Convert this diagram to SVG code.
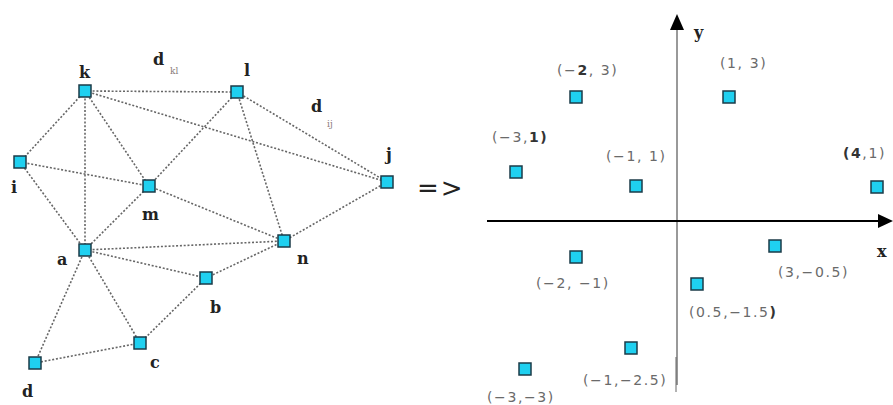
<svg xmlns="http://www.w3.org/2000/svg" width="893" height="405" viewBox="0 0 893 405">
<defs>
<style>
.nd{fill:#1fd0f0;stroke:#1b3b48;stroke-width:1.5}
.e line{stroke:#666;stroke-width:1.6;stroke-dasharray:2,1.8}
.lb{font-family:"DejaVu Serif","Liberation Serif",serif;font-weight:bold;font-size:16px;fill:#222}
.sb{font-family:"DejaVu Serif",serif;font-size:9px;fill:#8a7a7a}
.co{font-family:"DejaVu Sans","Liberation Sans",sans-serif;font-size:14px;letter-spacing:1.6px;fill:#6a6a6a}
.bk{font-weight:bold;fill:#333}
</style>
</defs>
<rect width="893" height="405" fill="#fff"/>
<g id="connectors" class="e">
<line x1="85" y1="91" x2="237" y2="92"/>
<line x1="85" y1="91" x2="20" y2="162"/>
<line x1="85" y1="91" x2="85" y2="250"/>
<line x1="85" y1="91" x2="149" y2="186"/>
<line x1="85" y1="91" x2="387" y2="182"/>
<line x1="237" y1="92" x2="149" y2="186"/>
<line x1="237" y1="92" x2="284" y2="241"/>
<line x1="237" y1="92" x2="387" y2="182"/>
<line x1="20" y1="162" x2="149" y2="186"/>
<line x1="20" y1="162" x2="85" y2="250"/>
<line x1="149" y1="186" x2="85" y2="250"/>
<line x1="149" y1="186" x2="284" y2="241"/>
<line x1="387" y1="182" x2="284" y2="241"/>
<line x1="85" y1="250" x2="284" y2="241"/>
<line x1="85" y1="250" x2="206" y2="278"/>
<line x1="85" y1="250" x2="140" y2="343"/>
<line x1="85" y1="250" x2="35" y2="363"/>
<line x1="206" y1="278" x2="284" y2="241"/>
<line x1="206" y1="278" x2="140" y2="343"/>
<line x1="140" y1="343" x2="35" y2="363"/>
</g>
<g id="node-k"><rect class="nd" x="79" y="85" width="12" height="12"/><text class="lb" x="79" y="78">k</text></g>
<g id="node-l"><rect class="nd" x="231" y="86" width="12" height="12"/><text class="lb" x="244" y="76">l</text></g>
<g id="node-i"><rect class="nd" x="14" y="156" width="12" height="12"/><text class="lb" x="11" y="193">i</text></g>
<g id="node-m"><rect class="nd" x="143" y="180" width="12" height="12"/><text class="lb" x="142" y="220">m</text></g>
<g id="node-j"><rect class="nd" x="381" y="176" width="12" height="12"/><text class="lb" x="386" y="160" font-size="13" fill="#555">j</text></g>
<g id="node-a"><rect class="nd" x="79" y="244" width="12" height="12"/><text class="lb" x="57" y="265">a</text></g>
<g id="node-n"><rect class="nd" x="278" y="235" width="12" height="12"/><text class="lb" x="297" y="264">n</text></g>
<g id="node-b"><rect class="nd" x="200" y="272" width="12" height="12"/><text class="lb" x="210" y="313">b</text></g>
<g id="node-c"><rect class="nd" x="134" y="337" width="12" height="12"/><text class="lb" x="150" y="368">c</text></g>
<g id="node-d"><rect class="nd" x="29" y="357" width="12" height="12"/><text class="lb" x="22" y="397">d</text></g>
<g id="label-dkl"><text class="lb" x="153" y="65" font-size="20">d</text><text class="sb" x="170" y="74">kl</text></g>
<g id="label-dij"><text class="lb" x="311" y="112" font-size="20">d</text><text class="sb" x="327" y="127">ij</text></g>
<text x="417" y="197" font-family="'DejaVu Sans',sans-serif" font-size="26" letter-spacing="2" fill="#222">=&gt;</text>
<g id="axes">
<line x1="677" y1="385" x2="677" y2="18" stroke="#999" stroke-width="2"/>
<path d="M670,30 L677,14 L684,30 z" fill="#000"/>
<line x1="487" y1="221" x2="880" y2="221" stroke="#000" stroke-width="1.8"/>
<path d="M878,214 L893,221 L878,228 z" fill="#000"/>
<text class="lb" x="694" y="38" font-size="18">y</text>
<text class="lb" x="877" y="257" font-size="18">x</text>
</g>
<g id="pt-m2-3"><rect class="nd" x="570" y="91" width="12" height="12"/><text class="co" x="557" y="75">(−<tspan class="bk">2</tspan>, 3)</text></g>
<g id="pt-1-3"><rect class="nd" x="723" y="91" width="12" height="12"/><text class="co" x="720" y="68">(1, 3)</text></g>
<g id="pt-m3-1"><rect class="nd" x="510" y="166" width="12" height="12"/><text class="co" x="492" y="142">(−3,<tspan class="bk">1)</tspan></text></g>
<g id="pt-m1-1"><rect class="nd" x="630" y="180" width="12" height="12"/><text class="co" x="606" y="161">(−1, 1)</text></g>
<g id="pt-4-1"><rect class="nd" x="871" y="181" width="12" height="12"/><text class="co" x="843" y="158"><tspan class="bk">(4</tspan>,1)</text></g>
<g id="pt-m2-m1"><rect class="nd" x="570" y="251" width="12" height="12"/><text class="co" x="536" y="288">(−2, −1)</text></g>
<g id="pt-3-m05"><rect class="nd" x="769" y="240" width="12" height="12"/><text class="co" x="778" y="277">(3,−0.5)</text></g>
<g id="pt-05-m15"><rect class="nd" x="691" y="278" width="12" height="12"/><text class="co" x="689" y="317">(0.5,−1.5<tspan class="bk">)</tspan></text></g>
<g id="pt-m1-m25"><rect class="nd" x="625" y="342" width="12" height="12"/><text class="co" x="583" y="385">(−1,−2.5)</text></g>
<g id="pt-m3-m3"><rect class="nd" x="519" y="363" width="12" height="12"/><text class="co" x="487" y="402">(−3,−3)</text></g>
<line x1="676" y1="357" x2="676" y2="392" stroke="#666" stroke-width="1"/>
</svg>
